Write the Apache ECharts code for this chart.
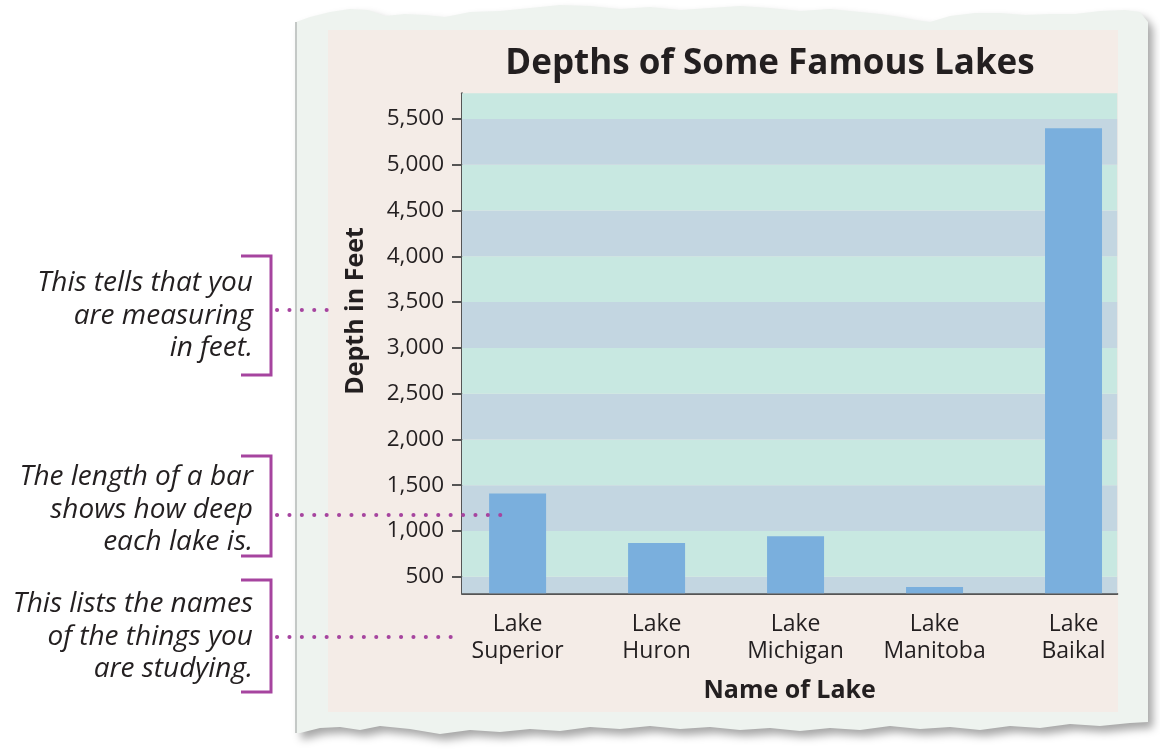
<!DOCTYPE html>
<html>
<head>
<meta charset="utf-8">
<script src="https://cdn.jsdelivr.net/npm/echarts@6/dist/echarts.min.js"></script>
<style>
  html, body { margin: 0; padding: 0; background: #ffffff; }
  #chart { width: 1160px; height: 751px; }
</style>
</head>
<body>
<div id="chart"></div>
<script>
// Lakes and their maximum depths in feet
const lakeNames = ['Lake\nSuperior', 'Lake\nHuron', 'Lake\nMichigan', 'Lake\nManitoba', 'Lake\nBaikal'];
const lakeDepths = [1410, 868, 944, 388, 5398];

// Depth axis: visible range and labelled ticks
const depthRange = [320, 5780];
const depthTicks = [500, 1000, 1500, 2000, 2500, 3000, 3500, 4000, 4500, 5000, 5500];

// Category positions along the lake axis
const lakeSlots = lakeNames.map((_, i) => i);

const TEXT = '#231f20';
const BAND_BLUE = '#c3d6e1';
const BAND_GREEN = '#c8e8e1';
const BAR = '#7aafdd';
const ACCENT = '#a6449f';

// Alternating horizontal bands between tick values
const edges = [depthRange[0], ...depthTicks, depthRange[1]];
const bands = [];
for (let i = 0; i < edges.length - 1; i++) {
  bands.push([
    { yAxis: edges[i], itemStyle: { color: i % 2 === 0 ? BAND_BLUE : BAND_GREEN } },
    { yAxis: edges[i + 1] }
  ]);
}

// Torn sheet of paper behind the chart
const paperPts = [
  [296,22],[310,17],[330,12],[350,9],[368,10],[385,16],[405,14],[425,15],[445,17],[470,12],[500,11],
  [530,8],[560,5],[590,6],[620,9],[650,7],[680,10],[710,8],[740,6],[770,8],[800,11],[830,9],[860,12],
  [880,14],[900,17],[915,20],[930,22],[950,16],[975,13],[1000,13],[1025,15],[1050,14],[1075,14],
  [1100,11],[1125,10],[1140,12],[1148,22],[1148,722],
  [1130,723],[1100,726],[1070,724],[1040,728],[1010,726],[980,730],[950,727],[920,729],[890,726],
  [860,730],[830,728],[800,731],[770,728],[740,730],[710,727],[680,729],[650,726],[620,729],[590,727],
  [560,731],[530,729],[500,732],[470,730],[440,734],[410,729],[380,726],[360,730],[340,727],[320,728],
  [300,733],[296,733]
];

const noteFont = { fontFamily: 'Open Sans', fontStyle: 'italic', fontSize: 28, fill: TEXT, align: 'right', lineHeight: 32.5 };

function note(text, x, y) {
  return { type: 'text', x: x, y: y, z: 50, style: Object.assign({ text: text, verticalAlign: 'middle' }, noteFont) };
}
function bracket(top, bottom) {
  return {
    type: 'polyline', z: 50,
    shape: { points: [[241, top], [271, top], [271, bottom], [241, bottom]] },
    style: { stroke: ACCENT, lineWidth: 3, fill: null }
  };
}
function dots(y, x2) {
  return {
    type: 'line', z: 50,
    shape: { x1: 277, y1: y, x2: x2, y2: y },
    style: { stroke: ACCENT, lineWidth: 4, lineCap: 'round', lineDash: [0.1, 12.3] }
  };
}

const chart = echarts.init(document.getElementById('chart'), null, { renderer: 'canvas' });

chart.setOption({
  backgroundColor: '#ffffff',
  animation: false,
  title: {
    text: 'Depths of Some Famous Lakes',
    left: 765, top: 42, textAlign: 'center',
    textStyle: { fontFamily: 'Open Sans', fontWeight: 'bold', fontSize: 35, color: TEXT }
  },
  grid: { left: 462, right: 42.7, top: 93.3, bottom: 157.7, containLabel: false },
  xAxis: {
    type: 'value',
    min: -0.4, max: 4.315,
    name: 'Name of Lake',
    nameLocation: 'middle',
    nameGap: 85,
    nameTextStyle: { fontFamily: 'Open Sans', fontWeight: 'bold', fontSize: 25, color: TEXT },
    axisLine: { show: true, onZero: false, lineStyle: { color: '#555555', width: 2 } },
    axisTick: { show: false },
    splitLine: { show: false },
    axisLabel: {
      customValues: lakeSlots,
      formatter: v => lakeNames[Math.round(v)] || '',
      fontFamily: 'Open Sans', fontSize: 23, color: TEXT, lineHeight: 27, margin: 18
    }
  },
  yAxis: {
    type: 'value',
    min: depthRange[0], max: depthRange[1],
    axisLine: { show: true, onZero: false, lineStyle: { color: '#555555', width: 2 } },
    axisTick: { show: true, customValues: depthTicks, length: 10, lineStyle: { color: '#555555', width: 2 } },
    splitLine: { show: false },
    axisLabel: {
      customValues: depthTicks,
      formatter: v => v.toLocaleString('en-US'),
      fontFamily: 'Open Sans', fontSize: 22.5, color: TEXT, margin: 18
    }
  },
  series: [
    {
      type: 'line', data: [], z: 1, silent: true,
      markArea: { silent: true, data: bands }
    },
    {
      type: 'bar', z: 3,
      barWidth: 57,
      itemStyle: { color: BAR },
      data: lakeDepths.map((d, i) => [lakeSlots[i], d])
    }
  ],
  graphic: [
    {
      type: 'polygon', z: -20,
      shape: { points: paperPts },
      style: { fill: '#eef3ef', shadowBlur: 8, shadowColor: 'rgba(0,0,0,0.35)', shadowOffsetX: 5, shadowOffsetY: 6 }
    },
    { type: 'line', z: -19, shape: { x1: 296, y1: 22, x2: 296, y2: 733 }, style: { stroke: '#c4c8c6', lineWidth: 2 } },
    { type: 'rect', z: -18, shape: { x: 328, y: 30, width: 790, height: 682 }, style: { fill: '#f4ece7' } },

    // depth axis title
    {
      type: 'text', x: 356, y: 311, rotation: Math.PI / 2, z: 50,
      style: { text: 'Depth in Feet', fontFamily: 'Open Sans', fontWeight: 'bold', fontSize: 25, fill: TEXT, align: 'center', verticalAlign: 'middle' }
    },

    note('This tells that you\nare measuring\nin feet.', 253, 316),
    bracket(256, 375),
    dots(310, 335),

    note('The length of a bar\nshows how deep\neach lake is.', 253, 510),
    bracket(456, 556),
    dots(515, 512),

    note('This lists the names\nof the things you\nare studying.', 253, 637),
    bracket(580, 692),
    dots(637, 458)
  ]
});
</script>
</body>
</html>
